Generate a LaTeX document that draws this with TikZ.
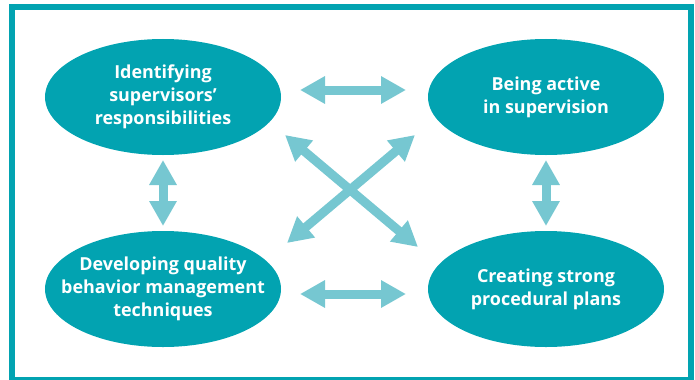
\documentclass[tikz,border=0pt]{standalone}
\usepackage{fontspec}
\setmainfont{Open Sans}
\usetikzlibrary{shapes.geometric,arrows.meta}
\definecolor{tealdark}{HTML}{02A3B1}
\definecolor{teallight}{HTML}{76C7D1}
\begin{document}
\begin{tikzpicture}[x=1bp,y=1bp]
	\useasboundingbox (0,0) rectangle (695,379);
	\clip (0,0) rectangle (695,379);
	\draw[tealdark,line width=5.5bp] (12,372) rectangle (691,-1);
	\tikzstyle{every node}=[ellipse,fill=tealdark,text=white,minimum width=236bp,minimum height=116bp,inner xsep=-30bp,inner ysep=-10bp,align=center,font=\fontsize{18}{23}\selectfont\bfseries];
	\tikzstyle{link}=[teallight,line width=9bp,{Triangle[width=26bp,length=25bp]}-{Triangle[width=26bp,length=25bp]}];
	\path (163,282) node (v0) {Identifying\\supervisors’\\responsibilities};
	\path (546,282) node (v1) {Being active\\in supervision};
	\path (163,90) node (v2) {Developing quality\\behavior management\\techniques};
	\path (546,90) node (v3) {Creating strong\\procedural plans};
	% arrow ends
	\coordinate (a0) at (300,289);
	\coordinate (a1) at (406,289);
	\coordinate (a2) at (300,85);
	\coordinate (a3) at (406,85);
	\coordinate (a4) at (163,219);
	\coordinate (a5) at (163,153);
	\coordinate (a6) at (546,219);
	\coordinate (a7) at (546,153);
	\coordinate (a8) at (285,244);
	\coordinate (a9) at (418,132);
	\coordinate (a10) at (415,244);
	\coordinate (a11) at (287,136);
	\draw[link] (a0) -- (a1);
	\draw[link] (a2) -- (a3);
	\draw[link] (a4) -- (a5);
	\draw[link] (a6) -- (a7);
	\draw[link] (a8) -- (a9);
	\draw[link] (a10) -- (a11);
\end{tikzpicture}
\end{document}
